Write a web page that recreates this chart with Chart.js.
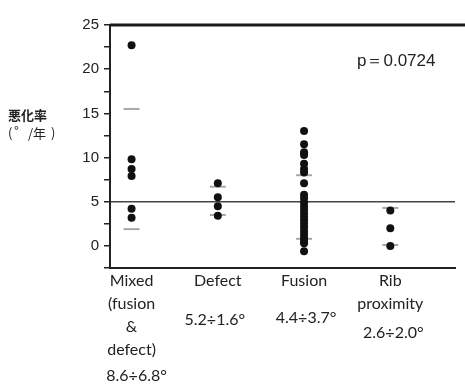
<!DOCTYPE html>
<html>
<head>
<meta charset="utf-8">
<script src="https://cdn.jsdelivr.net/npm/chart.js@4.4.1/dist/chart.umd.min.js"></script>
<style>
  html, body { margin: 0; padding: 0; background: #fff; }
  #wrap { width: 465px; height: 388px; position: relative; }
</style>
</head>
<body>
<div id="wrap"><canvas id="chart"></canvas></div>
<script>
// categories and the values
const categories = [
  ['Mixed', '(fusion', '&', 'defect)'],
  ['Defect'],
  ['Fusion'],
  ['Rib', 'proximity'],
];
const meanLabels = ['8.6÷6.8°', '5.2÷1.6°', '4.4÷3.7°', '2.6÷2.0°'];

const mixedValues = [22.7, 9.8, 8.7, 7.9, 4.2, 3.2];
const defectValues = [7.1, 5.5, 4.5, 3.4];
const fusionValues = [13.0, 11.5, 10.6, 10.3, 9.3, 8.7, 8.3, 7.1, 5.8, 5.4,
  4.9, 4.5, 4.1, 3.7, 3.3, 2.9, 2.5, 2.1, 1.7, 1.3, 0.9, 0.5, 0.3, -0.6];
const ribValues = [4.0, 2.0, 0.0];
const seriesValues = [mixedValues, defectValues, fusionValues, ribValues];

// mean ± SD marks (upper, lower)
const sdUpper = [15.5, 6.7, 8.0, 4.3];
const sdLower = [1.9, 3.5, 0.8, 0.1];

const yTicks = [0, 5, 10, 15, 20, 25];
const pText = 'p＝0.0724';

const dots = [];
seriesValues.forEach((vals, i) => vals.forEach(v => dots.push({ x: i, y: v })));
const sdMarks = [];
categories.forEach((c, i) => {
  sdMarks.push({ x: i, y: sdUpper[i] });
  sdMarks.push({ x: i, y: sdLower[i] });
});

// top frame line + text outside the axes
const extraText = {
  id: 'extraText',
  afterDraw(chart) {
    const { ctx, chartArea } = chart;
    const xs = chart.scales.x;
    ctx.save();

    // frame line along the top, out to the page edge like the scan
    ctx.fillStyle = '#1a1a1a';
    ctx.fillRect(chartArea.left, chartArea.top - 1.5, chart.width - chartArea.left, 3);

    ctx.fillStyle = '#222';
    ctx.textBaseline = 'middle';

    // y axis title, drawn in pieces to keep the wide spacing
    ctx.font = 'bold 13px "Noto Sans CJK JP"';
    ctx.textAlign = 'left';
    ctx.fillText('悪化率', 8, 115);
    ctx.font = '13px "Noto Sans CJK JP"';
    ctx.fillText('(', 8, 133);
    ctx.fillText('°', 14, 131);
    ctx.fillText('/年', 28, 133);
    ctx.fillText(')', 51, 133);

    ctx.font = '17px "Liberation Sans"';
    ctx.fillText(pText, 357, 61);

    const meanY = [376, 320, 318, 333];
    const meanDx = [5, -3, 2, 3];
    ctx.font = '16px Lato';
    ctx.textAlign = 'center';
    meanLabels.forEach((t, i) => {
      ctx.fillText(t, xs.getPixelForValue(i) + meanDx[i], meanY[i]);
    });
    ctx.restore();
  }
};

new Chart(document.getElementById('chart'), {
  type: 'scatter',
  data: {
    datasets: [
      {
        label: 'values',
        data: dots,
        pointRadius: 4,
        pointHoverRadius: 4,
        backgroundColor: '#111',
        borderColor: '#111',
        borderWidth: 0,
      },
      {
        label: 'sd',
        data: sdMarks,
        pointStyle: 'line',
        pointRadius: 8,
        pointHoverRadius: 8,
        borderColor: '#a8a8a8',
        borderWidth: 2,
      },
    ],
  },
  options: {
    responsive: true,
    maintainAspectRatio: false,
    animation: false,
    layout: { padding: { top: 25, right: 0, left: 0, bottom: 0 } },
    plugins: {
      legend: { display: false },
      tooltip: { enabled: false },
    },
    scales: {
      x: {
        type: 'linear',
        min: -0.25,
        max: 3.75,
        afterBuildTicks: (axis) => {
          axis.ticks = categories.map((c, i) => ({ value: i }));
        },
        afterFit: (scale) => { scale.height = 120; },
        ticks: {
          autoSkip: false,
          maxRotation: 0,
          padding: 1,
          color: '#222',
          font: { family: 'Lato', size: 16, lineHeight: 1.45 },
          callback: (v) => categories[v] || '',
        },
        grid: { color: 'transparent', drawTicks: false },
        border: { display: true, color: '#222', width: 2 },
      },
      y: {
        min: -2.5,
        max: 25,
        afterBuildTicks: (axis) => {
          const t = [];
          for (let v = -2.5; v <= 25; v += 2.5) t.push({ value: v });
          axis.ticks = t;
        },
        afterFit: (scale) => { scale.width = 110; },
        ticks: {
          autoSkip: false,
          padding: 5,
          color: '#222',
          font: { family: 'Liberation Sans', size: 15 },
          callback: (v) => (yTicks.includes(v) ? String(v) : ''),
        },
        grid: {
          color: (c) => (c.tick && c.tick.value === 5 ? '#444' : 'transparent'),
          lineWidth: 1.5,
          tickColor: '#222',
          tickLength: 6,
        },
        border: { display: true, color: '#222', width: 2 },
      },
    },
  },
  plugins: [extraText],
});
</script>
</body>
</html>
